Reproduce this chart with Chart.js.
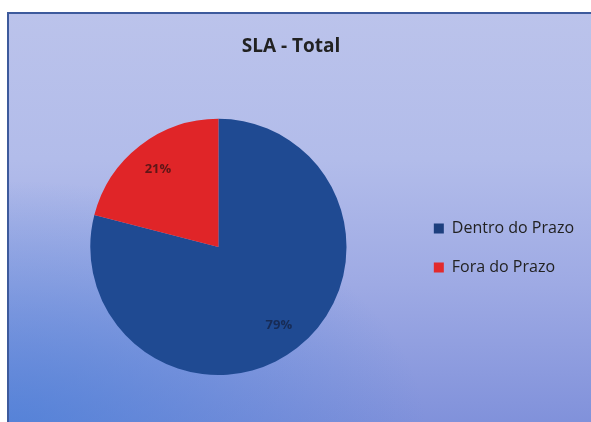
<!DOCTYPE html>
<html>
<head>
<meta charset="utf-8">
<script src="https://cdn.jsdelivr.net/npm/chart.js@4.4.1/dist/chart.umd.min.js"></script>
<style>
    html, body { margin: 0; padding: 0; background: #ffffff; }
    #frame {
        position: absolute;
        left: 7px;
        top: 12px;
        width: 600px;
        height: 420px;
        border: 2px solid #3d5a9c;
        box-sizing: border-box;
        background:
            radial-gradient(ellipse 70% 60% at 0% 100%, rgba(70, 125, 215, 0.75) 0%, rgba(70, 125, 215, 0) 100%),
            linear-gradient(to bottom, #bbc3eb 0%, #b2bcea 35%, #9eaae4 65%, #7f90da 100%);
    }
    #wrap { position: absolute; left: 0; top: 0; width: 591px; height: 422px; }
</style>
</head>
<body>
<div id="frame"></div>
<div id="wrap"><canvas id="chart" width="591" height="422"></canvas></div>
<script>
const title = "SLA - Total";
const categories = ["Dentro do Prazo", "Fora do Prazo"];
const values = [79, 21];
const sliceColors = ["#1f4a92", "#e02528"];
const legendColors = ["#1d3f7e", "#e22a2c"];

// percentage labels near the outer edge of each slice
const pctLabels = {
    id: "pctLabels",
    afterDatasetsDraw(chart) {
        const ctx = chart.ctx;
        const meta = chart.getDatasetMeta(0);
        const total = values.reduce((a, b) => a + b, 0);
        ctx.save();
        ctx.font = "bold 13px 'Open Sans', sans-serif";
        ctx.textAlign = "center";
        ctx.textBaseline = "middle";
        meta.data.forEach((arc, i) => {
            const p = arc.getProps(["x", "y", "startAngle", "endAngle", "outerRadius"], true);
            const mid = (p.startAngle + p.endAngle) / 2;
            const r = p.outerRadius * 0.77;
            ctx.fillStyle = i === 0 ? "rgba(20, 30, 60, 0.7)" : "rgba(70, 20, 20, 0.85)";
            ctx.fillText(Math.round(values[i] / total * 100) + "%", p.x + Math.cos(mid) * r, p.y + Math.sin(mid) * r);
        });
        ctx.restore();
    }
};

// keep the title centred on the frame, not on the padded layout
const centerTitle = {
    id: "centerTitle",
    afterLayout(chart) {
        if (chart.titleBlock) {
            chart.titleBlock.left = 0;
            chart.titleBlock.right = 582;
        }
    }
};

new Chart(document.getElementById("chart"), {
    type: "pie",
    data: {
        labels: categories,
        datasets: [{
            data: values,
            backgroundColor: sliceColors,
            borderWidth: 0
        }]
    },
    options: {
        responsive: false,
        animation: false,
        layout: {
            padding: {left: 26, right: 7, top: 0, bottom: 47}
        },
        plugins: {
            title: {
                display: true,
                text: title,
                color: "#222222",
                font: {family: "'Open Sans', sans-serif", size: 19, weight: "bold"},
                padding: {top: 35, bottom: 61}
            },
            legend: {
                position: "right",
                title: {
                    display: true,
                    text: "",
                    font: {size: 1},
                    padding: {top: 120, bottom: 0}
                },
                labels: {
                    color: "#222222",
                    font: {family: "'Open Sans', sans-serif", size: 16},
                    boxWidth: 10,
                    boxHeight: 10,
                    padding: 23,
                    generateLabels(chart) {
                        return categories.map((c, i) => ({
                            text: c,
                            fillStyle: legendColors[i],
                            strokeStyle: legendColors[i],
                            fontColor: "#222222",
                            lineWidth: 0,
                            index: i
                        }));
                    }
                }
            },
            tooltip: {enabled: false}
        }
    },
    plugins: [pctLabels, centerTitle]
});
</script>
</body>
</html>
